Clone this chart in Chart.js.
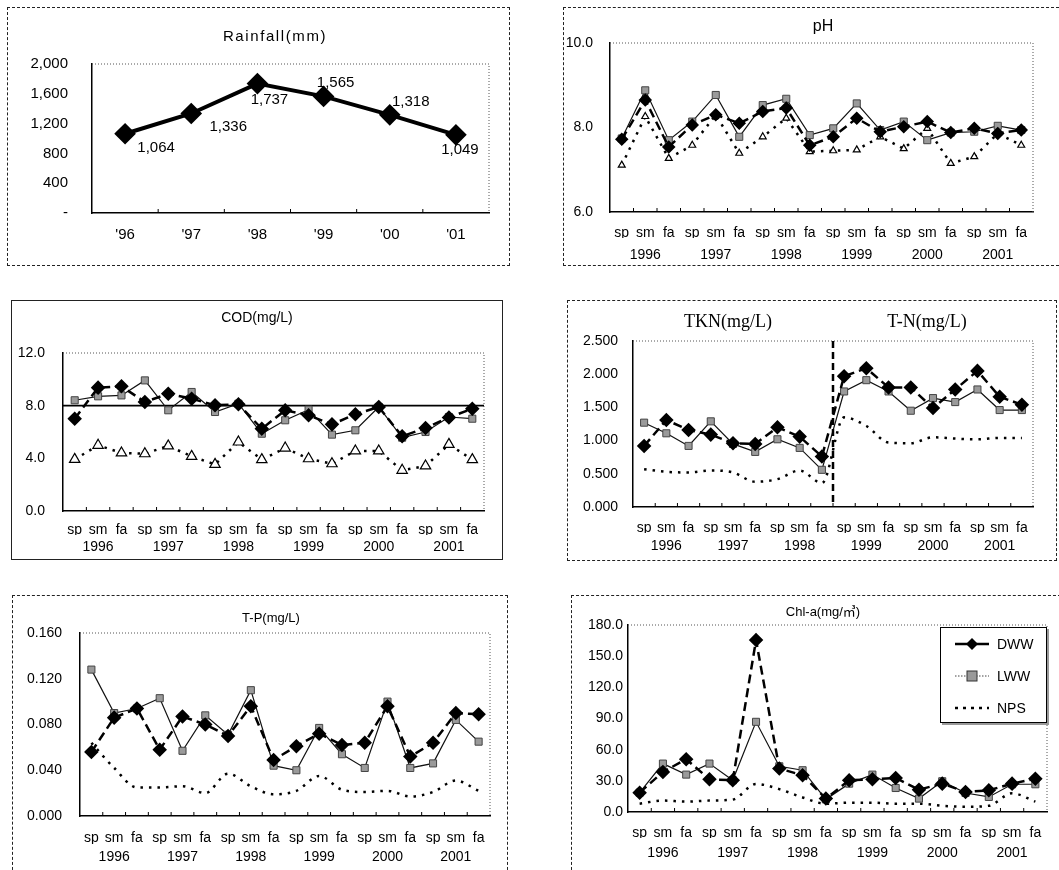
<!DOCTYPE html>
<html><head><meta charset="utf-8">
<script src="https://cdn.jsdelivr.net/npm/chart.js@4.4.1/dist/chart.umd.min.js"></script>
<style>
body{margin:0;background:#fff;width:1059px;height:870px;overflow:hidden;position:relative;font-family:'Liberation Sans',Arial,sans-serif;}
.panel{position:absolute;box-sizing:border-box;border:1px dashed #222;}
canvas{position:absolute;}
#legend{position:absolute;left:940px;top:627px;width:107px;height:96px;box-sizing:border-box;border:1.5px solid #000;box-shadow:2px 2px 0 #999;background:#fff;font-size:14px;}
#legend .row{position:absolute;left:14px;height:16px;display:flex;align-items:center;}
#legend .row span{margin-left:8px;}
</style></head><body>
<div class="panel" style="left:7px;top:7px;width:503px;height:259px"></div>
<div class="panel" style="left:563px;top:7px;width:496px;height:259px;border-right:none"></div>
<div class="panel" style="left:11px;top:300px;width:492px;height:260px;border-style:solid;border-width:1.5px"></div>
<div class="panel" style="left:567px;top:300px;width:490px;height:261px"></div>
<div class="panel" style="left:12px;top:595px;width:496px;height:280px"></div>
<div class="panel" style="left:571px;top:595px;width:490px;height:280px"></div>
<canvas id="c1"></canvas><canvas id="c2"></canvas><canvas id="c3"></canvas>
<canvas id="c4"></canvas><canvas id="c5"></canvas><canvas id="c6"></canvas>
<div id="legend">
  <div class="row" style="top:8px"><svg width="34" height="14"><line x1="0" y1="7" x2="34" y2="7" stroke="#000" stroke-width="2.5"/><polygon points="17,1 23,7 17,13 11,7" fill="#000"/></svg><span>DWW</span></div>
  <div class="row" style="top:40px"><svg width="34" height="14"><line x1="0" y1="7" x2="34" y2="7" stroke="#444" stroke-width="1" stroke-dasharray="1.5,1.5"/><rect x="12" y="2" width="10" height="10" fill="#999" stroke="#333" stroke-width="1"/></svg><span>LWW</span></div>
  <div class="row" style="top:72px"><svg width="34" height="14"><line x1="0" y1="7" x2="34" y2="7" stroke="#000" stroke-width="2.5" stroke-dasharray="3,5"/></svg><span>NPS</span></div>
</div>
<script>
// ---------- DATA ----------
const rainYears = ["'96","'97","'98","'99","'00","'01"];
const rainfall = [1064, 1336, 1737, 1565, 1318, 1049];
const rainTickLabels = ['-', '400', '800', '1,200', '1,600', '2,000'];

const seasons = ['sp','sm','fa','sp','sm','fa','sp','sm','fa','sp','sm','fa','sp','sm','fa','sp','sm','fa'];
const years = ['1996','1997','1998','1999','2000','2001'];

const phDWW = [7.72,8.65,7.54,8.06,8.30,8.10,8.38,8.46,7.58,7.78,8.22,7.90,8.02,8.14,7.88,7.98,7.86,7.94];
const phLWW = [7.74,8.88,7.70,8.14,8.77,7.78,8.53,8.68,7.82,7.98,8.57,7.94,8.14,7.70,7.88,7.90,8.04,7.94];
const phNPS = [7.11,8.26,7.27,7.58,8.30,7.39,7.78,8.22,7.43,7.45,7.47,7.78,7.50,7.98,7.15,7.31,7.86,7.58];

const codDWW = [7.01,9.37,9.47,8.28,8.91,8.53,8.03,8.10,6.25,7.65,7.27,6.58,7.34,7.90,5.67,6.30,7.10,7.77];
const codLWW = [8.41,8.71,8.78,9.92,7.65,9.04,7.52,8.15,5.87,6.89,7.70,5.80,6.13,7.90,5.57,6.00,7.14,7.01];
const codNPS = [3.92,4.99,4.41,4.35,4.94,4.15,3.54,5.24,3.90,4.78,3.97,3.59,4.56,4.56,3.09,3.42,5.06,3.90];
const codLimit = 8.0;

const tknDWW = [0.92,1.31,1.16,1.09,0.96,0.95,1.20,1.06,0.76,1.97,2.09,1.80,1.80,1.49,1.77,2.05,1.66,1.54];
const tknLWW = [1.27,1.11,0.92,1.29,0.95,0.83,1.02,0.89,0.56,1.74,1.91,1.74,1.45,1.64,1.58,1.77,1.46,1.46];
const tknNPS = [0.57,0.53,0.52,0.55,0.52,0.38,0.42,0.55,0.36,1.35,1.22,0.97,0.96,1.05,1.03,1.02,1.04,1.04];

const tpDWW = [0.056,0.086,0.094,0.058,0.087,0.080,0.070,0.096,0.049,0.061,0.072,0.062,0.064,0.096,0.052,0.064,0.090,0.089];
const tpLWW = [0.128,0.090,0.094,0.103,0.057,0.088,0.071,0.110,0.044,0.040,0.077,0.054,0.042,0.100,0.042,0.046,0.084,0.065];
const tpNPS = [0.064,0.042,0.025,0.025,0.026,0.020,0.037,0.026,0.019,0.022,0.035,0.023,0.021,0.022,0.017,0.021,0.031,0.022];

const chlDWW = [18.6,38.6,50.8,31.5,30.5,165.5,41.8,35.4,12.9,30.5,31.5,32.8,21.5,27.3,19.3,20.9,27.3,32.1];
const chlLWW = [18.6,46.6,36.0,46.6,30.5,86.8,44.0,40.2,12.2,27.3,36.0,23.1,12.9,29.6,18.3,14.5,26.7,26.7];
const chlNPS = [8,11,10,11,12,27,22,14,8,9,9,8,8,6,5,6,18,10];

// ---------- STYLE ----------
Chart.defaults.font.family = "'Liberation Sans', Arial, sans-serif";
Chart.defaults.color = '#000';

function dww(data, r) {
  return {label:'DWW', data, borderColor:'#000', borderWidth:2.5, borderDash:[9,5],
    pointStyle:'rectRot', pointRadius:r||5.5, pointBackgroundColor:'#000', pointBorderColor:'#000', tension:0};
}
function lww(data) {
  return {label:'LWW', data, borderColor:'#111', borderWidth:1.2,
    pointStyle:'rect', pointRadius:5, pointBackgroundColor:'#9a9a9a', pointBorderColor:'#444', pointBorderWidth:1, tension:0};
}
function nps(data, tri, r) {
  return {label:'NPS', data, borderColor:'#000', borderWidth:2.5, borderDash:[2.5,6],
    pointStyle:'triangle', pointRadius: tri ? (r||5) : 0, pointBackgroundColor:'#fff', pointBorderColor:'#000', pointBorderWidth:1.2,
    cubicInterpolationMode: tri ? 'default' : 'monotone', tension: tri ? 0 : 0.4};
}

const framePlugin = {
  id:'frame',
  beforeDatasetsDraw(chart) {
    const {ctx, chartArea:a} = chart;
    ctx.save();
    ctx.strokeStyle = '#555'; ctx.lineWidth = 1; ctx.setLineDash([1,2]);
    ctx.beginPath(); ctx.moveTo(a.left, a.top); ctx.lineTo(a.right, a.top); ctx.lineTo(a.right, a.bottom); ctx.stroke();
    ctx.setLineDash([]); ctx.strokeStyle = '#000';
    const xs = chart.scales.x, n = xs.getLabels().length;
    ctx.beginPath();
    for (let i = 1; i < n; i++) {
      const px = (xs.getPixelForValue(i-1) + xs.getPixelForValue(i)) / 2;
      ctx.moveTo(px, a.bottom); ctx.lineTo(px, a.bottom - 4);
    }
    ctx.stroke();
    ctx.restore();
  }
};

function textPlugin(g, items) {
  return {id:'texts', afterDraw(chart) {
    const ctx = chart.ctx; ctx.save();
    items.forEach(t => {
      ctx.font = t.font; ctx.fillStyle = '#000'; ctx.textAlign = 'center'; ctx.textBaseline = 'middle';
      ctx.letterSpacing = (t.ls || 0) + 'px';
      ctx.fillText(t.text, t.x - g.x, t.y - g.y);
    });
    ctx.restore();
  }};
}

function build(id, g, datasets, y, extraPlugins) {
  const cv = document.getElementById(id);
  cv.style.left = g.x + 'px'; cv.style.top = g.y + 'px';
  cv.width = g.w; cv.height = g.h;
  const L = g.area[0]-g.x, T = g.area[1]-g.y, R = g.area[2]-g.x, B = g.area[3]-g.y;
  const yW = L - 2;
  const tf = {size: g.fs || 14};
  const scales = {
    x: {type:'category', labels:g.labels, offset:true, weight:0,
      grid:{display:true, drawOnChartArea:false, drawTicks:false},
      border:{display:true, color:'#000', width:1.5},
      ticks:{padding:g.xPad, font:tf, color:'#000', maxRotation:0, autoSkip:false},
      afterFit: s => { s.height = g.xH; }},
    y: {type:'linear', min:y.min, max:y.max,
      grid:{display:true, drawOnChartArea:false, drawTicks:false},
      border:{display:true, color:'#000', width:1.5},
      ticks:{stepSize:y.step, padding:g.yPad, font:tf, color:'#000', callback:y.fmt},
      afterFit: s => { s.width = yW; }}
  };
  if (g.labels2) {
    scales.x2 = {type:'category', labels:g.labels2, offset:true, position:'bottom', weight:1,
      grid:{display:false, drawTicks:false}, border:{display:false},
      ticks:{padding:g.x2Pad, font:tf, color:'#000', maxRotation:0, autoSkip:false},
      afterFit: s => { s.height = g.x2H; }};
  }
  return new Chart(cv, {
    type:'line',
    data:{labels:g.labels, datasets},
    options:{responsive:false, animation:false, devicePixelRatio:1,
      layout:{padding:{left:2, top:T, right:g.w-R, bottom:g.h-B-g.xH-(g.x2H||0)}},
      scales,
      plugins:{legend:{display:false}, tooltip:{enabled:false}}},
    plugins:[framePlugin].concat(extraPlugins||[])
  });
}

// ---------- 1. Rainfall ----------
const g1 = {x:7, y:7, w:502, h:258, area:[92,64,489,213], labels:rainYears, xPad:13, xH:40, yPad:24, fs:15};
const rainLabelOffsets = [[31,14],[37,13],[12,16],[12,-14],[21,-13],[4,15]];
build('c1', g1, [{label:'Rainfall', data:rainfall, borderColor:'#000', borderWidth:4,
    pointStyle:'rectRot', pointRadius:8, pointBackgroundColor:'#000', pointBorderColor:'#000', tension:0}],
  {min:0, max:2000, step:400, fmt:(v)=> rainTickLabels[Math.round(v/400)]},
  [textPlugin(g1, [{text:'Rainfall(mm)', x:275, y:37, font:'15px "Liberation Sans", Arial', ls:1.6}]),
   {id:'dl', afterDatasetsDraw(chart){
      const ctx = chart.ctx, pts = chart.getDatasetMeta(0).data;
      ctx.save(); ctx.font = '15px "Liberation Sans", Arial'; ctx.fillStyle='#000'; ctx.textAlign='center'; ctx.textBaseline='middle';
      pts.forEach((p,i)=>{ ctx.fillText(rainfall[i].toLocaleString('en-US'), p.x + rainLabelOffsets[i][0], p.y + rainLabelOffsets[i][1]); });
      ctx.restore();
   }}]);

// ---------- 2. pH ----------
const g2 = {x:563, y:7, w:493, h:258, area:[610,43,1033,212], labels:seasons, labels2:years, xPad:13, xH:26, x2Pad:9, x2H:22, yPad:17};
build('c2', g2, [dww(phDWW,5), lww(phLWW), nps(phNPS,true,4)],
  {min:6, max:10, step:2, fmt:v=>v.toFixed(1)},
  [textPlugin(g2, [{text:'pH', x:823, y:27, font:'16px "Liberation Sans", Arial'}])]);

// ---------- 3. COD ----------
const g3 = {x:12, y:301, w:490, h:258, area:[63,353,484,511], labels:seasons, labels2:years, xPad:11, xH:24, x2Pad:4, x2H:16, yPad:18};
build('c3', g3, [dww(codDWW), lww(codLWW), nps(codNPS,true,6)],
  {min:0, max:12, step:4, fmt:v=>v.toFixed(1)},
  [textPlugin(g3, [{text:'COD(mg/L)', x:257, y:318, font:'14px "Liberation Sans", Arial'}]),
   {id:'ref', beforeDatasetsDraw(chart){
      const ctx = chart.ctx, a = chart.chartArea, py = chart.scales.y.getPixelForValue(codLimit);
      ctx.save(); ctx.strokeStyle='#000'; ctx.lineWidth=1.6; ctx.beginPath(); ctx.moveTo(a.left,py); ctx.lineTo(a.right,py); ctx.stroke(); ctx.restore();
   }}]);

// ---------- 4. TKN / T-N ----------
const g4 = {x:568, y:301, w:488, h:259, area:[633,341,1033,507], labels:seasons, labels2:years, xPad:13, xH:26, x2Pad:5, x2H:18, yPad:15};
build('c4', g4, [dww(tknDWW), lww(tknLWW), nps(tknNPS,false)],
  {min:0, max:2.5, step:0.5, fmt:v=>v.toFixed(3)},
  [textPlugin(g4, [{text:'TKN(mg/L)', x:728, y:322, font:'18px "Liberation Serif", "Times New Roman", serif'},
                   {text:'T-N(mg/L)', x:927, y:322, font:'18px "Liberation Serif", "Times New Roman", serif'}]),
   {id:'vline', afterDatasetsDraw(chart){
      const ctx = chart.ctx, a = chart.chartArea, xs = chart.scales.x;
      const px = (xs.getPixelForValue(8) + xs.getPixelForValue(9)) / 2;
      ctx.save(); ctx.strokeStyle='#000'; ctx.lineWidth=2.5; ctx.setLineDash([7,4]);
      ctx.beginPath(); ctx.moveTo(px,a.top); ctx.lineTo(px,a.bottom); ctx.stroke(); ctx.restore();
   }}]);

// ---------- 5. T-P ----------
const g5 = {x:13, y:596, w:494, h:274, area:[80,633,490,816], labels:seasons, labels2:years, xPad:14, xH:28, x2Pad:5, x2H:18, yPad:18};
build('c5', g5, [dww(tpDWW), lww(tpLWW), nps(tpNPS,false)],
  {min:0, max:0.16, step:0.04, fmt:v=>v.toFixed(3)},
  [textPlugin(g5, [{text:'T-P(mg/L)', x:271, y:618, font:'13px "Liberation Sans", Arial'}])]);

// ---------- 6. Chl-a ----------
const g6 = {x:572, y:596, w:487, h:274, area:[628,625,1047,812], labels:seasons, labels2:years, xPad:13, xH:26, x2Pad:7, x2H:20, yPad:5};
build('c6', g6, [dww(chlDWW), lww(chlLWW), nps(chlNPS,false)],
  {min:0, max:180, step:30, fmt:v=>v.toFixed(1)},
  [textPlugin(g6, [{text:'Chl-a(mg/㎥)', x:823, y:612, font:'13px "Liberation Sans", Arial, "Noto Sans CJK KR"'}])]);
</script>
</body></html>
